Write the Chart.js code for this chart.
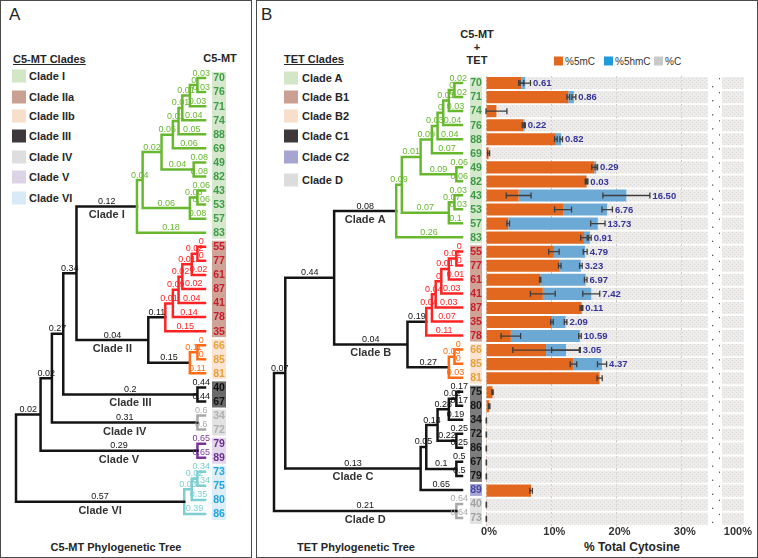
<!DOCTYPE html>
<html>
<head>
<meta charset="utf-8">
<script src="https://cdn.jsdelivr.net/npm/chart.js@4.4.0/dist/chart.umd.min.js"></script>
<style>
  body { margin: 0; width: 758px; height: 558px; position: relative; overflow: hidden; background: #fff;
         font-family: "Liberation Sans", Arial, sans-serif; color: #262626; }
  .panel { position: absolute; border: 1.5px solid #4a4a4a; box-sizing: border-box; }
  canvas { position: absolute; }
  .t { position: absolute; white-space: nowrap; font-size: 11px; font-weight: bold; line-height: 14px; transform: translateY(-50%); }
  .c { position: absolute; white-space: nowrap; font-size: 11px; font-weight: bold; line-height: 14px; transform: translate(-50%, -50%); }
  .sw { position: absolute; width: 14px; height: 13px; transform: translateY(-50%); }
  .u { text-decoration: underline; }
  .big { position: absolute; font-size: 17px; }
  .lg { position: absolute; top: 61px; transform: translateY(-50%); display: flex; align-items: center; font-size: 10px; color: #333; }
  .lg i { display: inline-block; width: 9px; height: 9px; margin-right: 2px; }
</style>
</head>
<body>
<div class="panel" style="left:0;top:0;width:252px;height:558px"></div>
<div class="panel" style="left:256px;top:0;width:502px;height:558px"></div>

<!-- panel A text -->
<div class="big" style="left:9px;top:5px">A</div>
<div class="t u" style="left:13px;top:59px">C5-MT Clades</div>
<div class="sw" style="left:12px;top:76px;background:#d3e6c6"></div><div class="t" style="left:29px;top:76px">Clade I</div>
<div class="sw" style="left:12px;top:97px;background:#c9a091"></div><div class="t" style="left:29px;top:97px">Clade IIa</div>
<div class="sw" style="left:12px;top:116px;background:#f8dfcc"></div><div class="t" style="left:29px;top:116px">Clade IIb</div>
<div class="sw" style="left:12px;top:136px;background:#3d393a"></div><div class="t" style="left:29px;top:136px">Clade III</div>
<div class="sw" style="left:12px;top:157px;background:#dedede"></div><div class="t" style="left:29px;top:157px">Clade IV</div>
<div class="sw" style="left:12px;top:177px;background:#ddd3e7"></div><div class="t" style="left:29px;top:177px">Clade V</div>
<div class="sw" style="left:12px;top:198px;background:#d8eaf5"></div><div class="t" style="left:29px;top:198px">Clade VI</div>
<div class="c" style="left:220px;top:58px">C5-MT</div>
<div class="c" style="left:116px;top:547px">C5-MT Phylogenetic Tree</div>

<!-- panel B text -->
<div class="big" style="left:261px;top:5px">B</div>
<div class="t u" style="left:284px;top:59px">TET Clades</div>
<div class="sw" style="left:284px;top:78px;background:#d3e6c6"></div><div class="t" style="left:302px;top:78px">Clade A</div>
<div class="sw" style="left:284px;top:97px;background:#c9a091"></div><div class="t" style="left:302px;top:97px">Clade B1</div>
<div class="sw" style="left:284px;top:116px;background:#f8dfcc"></div><div class="t" style="left:302px;top:116px">Clade B2</div>
<div class="sw" style="left:284px;top:136px;background:#3d393a"></div><div class="t" style="left:302px;top:136px">Clade C1</div>
<div class="sw" style="left:284px;top:157px;background:#a5a5cf"></div><div class="t" style="left:302px;top:157px">Clade C2</div>
<div class="sw" style="left:284px;top:180px;background:#dcdcdc"></div><div class="t" style="left:302px;top:180px">Clade D</div>
<div class="c" style="left:477px;top:34px">C5-MT</div>
<div class="c" style="left:477px;top:47px">+</div>
<div class="c" style="left:477px;top:60px">TET</div>
<div class="lg" style="left:554px"><i style="background:#e2681f"></i>%5mC</div>
<div class="lg" style="left:604px"><i style="background:#1f9bdb"></i>%5hmC</div>
<div class="lg" style="left:654px"><i style="background:#c9c9c9"></i>%C</div>
<div class="c" style="left:356px;top:547px">TET Phylogenetic Tree</div>
<div class="c" style="left:632px;top:547px;font-size:12px">% Total Cytosine</div>

<canvas id="treeA" width="250" height="558" style="left:0;top:0"></canvas>
<canvas id="treeB" width="228" height="558" style="left:258px;top:0"></canvas>
<canvas id="bars" width="244" height="480" style="left:476px;top:66px"></canvas>
<canvas id="tail" width="40" height="480" style="left:718px;top:66px"></canvas>

<script>
Chart.defaults.font.family = '"Liberation Sans", Arial, sans-serif';

const GREEN = '#68b82f', RED = '#ff2323', ORANGE = '#ff6a14', BLACK = '#141414';
const GRAY = '#a8a8a8', PURPLE = '#7a3598', TEAL = '#7ccfd0';

function leaf(n, t) { return { n, t }; }
function node(d, t, kids, extra) { return Object.assign({ d, t, kids }, extra); }

// depth: 0 = root, 100 = tips; t = branch length written on the branch
const treeA = node(0, '', [
  node(13, '0.02', [
    node(19, '0.02', [
      node(25, '0.27', [
        node(32, '0.34', [
          node(64, '0.12', [
            node(67, '0.04', [
              node(77, '0.02', [
                node(83, '0.05', [
                  node(86, '0.01', [
                    node(88, '0.01', [
                      node(92, '0.01', [
                        node(96, '0', [leaf('70', '0.03'), leaf('76', '0.03')]),
                        leaf('71', '0.03')]),
                      leaf('74', '0.04')]),
                    leaf('88', '0.05')]),
                  leaf('69', '0.06')]),
                node(94, '0.04', [leaf('49', '0.08'), leaf('82', '0.08')])]),
              node(92, '0.06', [
                node(96, '0.03', [leaf('43', '0.06'), leaf('53', '0.06')]),
                leaf('57', '0.08')])]),
            leaf('83', '0.18')], { col: GREEN, clade: 'Clade I' }),
          node(70, '0.04', [
            node(79, '0.11', [
              node(83, '0.01', [
                node(86, '0.09', [
                  node(88, '0.02', [
                    node(93, '0.01', [
                      node(96, '0.02', [leaf('55', '0'), leaf('77', '0')]),
                      leaf('61', '0.02')]),
                    leaf('87', '0.02')]),
                  leaf('41', '0.04')]),
                leaf('78', '0.14')]),
              leaf('35', '0.15')], { col: RED }),
            node(92, '0.15', [
              node(96, '0.11', [leaf('66', '0'), leaf('85', '0')]),
              leaf('81', '0.11')], { col: ORANGE })], { clade: 'Clade II' })]),
        node(96, '0.2', [leaf('40', '0.44'), leaf('67', '0.44')], { clade: 'Clade III' })]),
      node(96, '0.31', [leaf('34', '0.6'), leaf('72', '0.6')], { col: GRAY, clade: 'Clade IV' })]),
    node(96, '0.29', [leaf('79', '0.65'), leaf('89', '0.65')], { col: PURPLE, clade: 'Clade V' })]),
  node(89, '0.57', [
    node(93, '0.03', [
      node(96, '0.02', [leaf('73', '0.34'), leaf('75', '0.34')]),
      leaf('80', '0.35')]),
    leaf('86', '0.39')], { col: TEAL, clade: 'Clade VI' })
]);

const treeB = node(0, '', [
  node(6, '0.07', [
    node(32, '0.44', [
      node(65, '0.08', [
        node(68, '0.09', [
          node(78, '0.01', [
            node(84, '0.09', [
              node(87, '0.03', [
                node(90, '0', [
                  node(93, '0.01', [
                    node(96, '0', [leaf('70', '0.02'), leaf('71', '0.02')]),
                    leaf('74', '0.03')]),
                  leaf('76', '0.04')]),
                leaf('88', '0.04')]),
              leaf('69', '0.07')]),
            node(97, '0.09', [leaf('49', '0.06'), leaf('82', '0.06')])]),
          node(93, '0.07', [
            node(96, '0.07', [leaf('43', '0.03'), leaf('53', '0.03')]),
            leaf('57', '0.1')])]),
        leaf('83', '0.26')], { col: GREEN, clade: 'Clade A' }),
      node(71, '0.04', [
        node(81, '0.19', [
          node(84, '0.04', [
            node(86, '0.04', [
              node(89, '0', [
                node(93, '0.01', [
                  node(97, '0.01', [leaf('55', '0'), leaf('77', '0')]),
                  leaf('61', '0.01')]),
                leaf('41', '0.03')]),
              leaf('87', '0.03')]),
            leaf('35', '0.07')]),
          leaf('78', '0.11')], { col: RED }),
        node(93, '0.27', [
          node(96, '0.03', [leaf('66', '0'), leaf('85', '0')]),
          leaf('81', '0.03')], { col: ORANGE })], { clade: 'Clade B' })]),
    node(78, '0.13', [
      node(81, '0.05', [
        node(87, '0.14', [
          node(93, '0.28', [
            node(97, '0.02', [leaf('75', '0.17'), leaf('80', '0.17')]),
            leaf('34', '0.19')]),
          node(97, '0.22', [leaf('72', '0.25'), leaf('86', '0.25')])]),
        node(97, '0.1', [leaf('67', '0.5'), leaf('79', '0.5')])]),
      leaf('89', '0.65')], { clade: 'Clade C' })]),
  node(97, '0.21', [leaf('40', '0.64'), leaf('73', '0.64')], { col: GRAY, clade: 'Clade D' })
]);

// leaf box groups: [number of leaves, box fill, number colour]
const boxesA = [
  [12, '#d5e8cb', '#3c9c47'], [7, '#cfa496', '#c81d2d'], [3, '#fbe4d3', '#eba13a'],
  [2, '#6a6a6a', '#101010'], [2, '#e2e2e2', '#b0b0b0'], [2, '#e3d8eb', '#6d2e8f'], [4, '#ddeef8', '#1ea4de']
];
const boxesB = [
  [12, '#d5e8cb', '#3c9c47'], [7, '#cfa496', '#c81d2d'], [3, '#fbe4d3', '#eba13a'],
  [7, '#7c7c7c', '#181818'], [1, '#a7a7d3', '#4848a6'], [2, '#e2e2e2', '#a2a2a2']
];

// bar chart data (rows follow the TET tree)
const samples = ['70', '71', '74', '76', '88', '69', '49', '82', '43', '53', '57', '83', '55', '77', '61', '41',
                 '87', '35', '78', '66', '85', '81', '75', '80', '34', '72', '86', '67', '79', '89', '40', '73'];
const mC = [5.4, 12.6, 1.6, 5.7, 10.7, 0.4, 16.6, 15.4, 5.0, 11.8, 3.4, 15.0, 10.4, 11.3, 8.3, 8.7,
            14.6, 10.1, 3.8, 9.2, 13.4, 17.4, 1.0, 0.5, 0.05, 0.05, 0.05, 0.05, 0.05, 6.9, 0.05, 0.05];
const hmC = [0.61, 0.86, 0, 0.22, 0.82, 0, 0.29, 0.03, 16.50, 6.76, 13.73, 0.91, 4.79, 3.23, 6.97, 7.42,
             0.11, 2.09, 10.59, 3.05, 4.37, 0, 0, 0, 0, 0, 0, 0, 0, 0, 0, 0];
const mCErr = [0.4, 0.2, 1.6, 0.15, 0.2, 0.15, 0.4, 0.2, 1.9, 1.3, 0.2, 0.5, 0.8, 0.2, 0.1, 1.9,
               0.2, 0.2, 1.5, 5.1, 0.5, 0.4, 0.1, 0.1, 0.03, 0.03, 0.03, 0.03, 0.03, 0.2, 0.03, 0.03];
const hmCErr = [0.8, 0.3, 0, 0.1, 0.2, 0, 0.2, 0.1, 3.6, 0.8, 1.1, 0.2, 0.3, 0.2, 0.2, 1.3,
                0.1, 0.2, 0.2, 2.2, 0.7, 0, 0, 0, 0, 0, 0, 0, 0, 0, 0, 0];
const restC = mC.map((v, i) => +(100 - v - hmC[i]).toFixed(2));
const xTicks = [0, 10, 20, 30];

function layoutTree(root) {
  let idx = 0;
  const nodes = [];
  (function walk(n, parent, col) {
    n.col = n.col || col;
    n.parent = parent;
    if (n.kids) {
      n.kids.forEach((k) => walk(k, n, n.col));
      n.y = (n.kids[0].y + n.kids[n.kids.length - 1].y) / 2;
    } else {
      n.d = 100;
      n.y = idx++;
    }
    nodes.push(n);
  })(root, null, BLACK);
  return nodes;
}

function branchSets(nodes) {
  const byCol = {};
  nodes.filter((n) => n.kids).forEach((n) => {
    const a = n.kids[0], b = n.kids[n.kids.length - 1];
    const pts = byCol[n.col] || (byCol[n.col] = []);
    pts.push({ x: a.d, y: a.y }, { x: n.d, y: a.y }, { x: n.d, y: b.y }, { x: b.d, y: b.y }, { x: null, y: null });
  });
  return Object.keys(byCol).map((col) => ({
    data: byCol[col], borderColor: col, borderWidth: 2.5, showLine: true, pointRadius: 0,
    spanGaps: false, clip: false, borderCapStyle: 'square', borderJoinStyle: 'miter', tension: 0,
  }));
}

const treeText = {
  id: 'treeText',
  afterDatasetsDraw(chart, args, opts) {
    const { ctx } = chart;
    const xs = chart.scales.x, ys = chart.scales.y;
    ctx.save();
    opts.nodes.forEach((n) => {
      if (!n.parent) return;
      const x0 = xs.getPixelForValue(n.parent.d), x1 = xs.getPixelForValue(n.d);
      const y = ys.getPixelForValue(n.y), mid = (x0 + x1) / 2;
      ctx.textAlign = 'center';
      if (n.t) {
        ctx.font = '9px "Liberation Sans", Arial';
        ctx.fillStyle = n.parent.col;
        ctx.textBaseline = 'alphabetic';
        ctx.fillText(n.t, mid, y - 2.5);
      }
      if (n.clade) {
        ctx.font = 'bold 11px "Liberation Sans", Arial';
        ctx.fillStyle = '#333';
        ctx.textBaseline = 'middle';
        ctx.fillText(n.clade, mid, y + 9);
      }
    });
    const leaves = opts.nodes.filter((n) => !n.kids).sort((a, b) => a.y - b.y);
    const step = ys.getPixelForValue(1) - ys.getPixelForValue(0);
    const tip = xs.getPixelForValue(100);
    let start = 0;
    opts.boxes.forEach(([count, fill, ink]) => {
      const top = ys.getPixelForValue(start) - step / 2 + 1;
      ctx.fillStyle = fill;
      ctx.fillRect(tip + opts.gap, top, opts.w, count * step - 2);
      ctx.fillStyle = ink;
      ctx.font = 'bold 10.5px "Liberation Sans", Arial';
      ctx.textAlign = 'center';
      ctx.textBaseline = 'middle';
      for (let i = start; i < start + count; i++) {
        ctx.fillText(leaves[i].n, tip + opts.gap + opts.w / 2, ys.getPixelForValue(i) + 0.5);
      }
      start += count;
    });
    ctx.restore();
  },
};

function drawTree(id, tree, boxes, padding, gap, w) {
  const nodes = layoutTree(tree);
  new Chart(document.getElementById(id), {
    type: 'scatter',
    data: { datasets: branchSets(nodes) },
    options: {
      responsive: false,
      animation: false,
      layout: { autoPadding: false, padding },
      plugins: { legend: { display: false }, tooltip: { enabled: false }, treeText: { nodes, boxes, gap, w } },
      scales: {
        x: { type: 'linear', min: 0, max: 100, display: false },
        y: { type: 'linear', min: -0.5, max: 31.5, reverse: true, display: false },
      },
    },
    plugins: [treeText],
  });
}

drawTree('treeA', treeA, boxesA, { left: 16, right: 45, top: 71, bottom: 37 }, 7, 14);
drawTree('treeB', treeB, boxesB, { left: 16, right: 24, top: 76, bottom: 33 }, 8, 12);

function hatch(ctx) {
  const c = document.createElement('canvas');
  c.width = 4; c.height = 4;
  const g = c.getContext('2d');
  g.fillStyle = 'rgba(226,225,221,0.62)';
  g.fillRect(0, 0, 4, 4);
  g.fillStyle = 'rgba(200,199,195,0.55)';
  g.fillRect(0, 0, 1, 1);
  g.fillRect(2, 2, 1, 1);
  return ctx.createPattern(c, 'repeat');
}

const errorBars = {
  id: 'errorBars',
  afterDatasetsDraw(chart) {
    const { ctx, chartArea } = chart;
    const xs = chart.scales.x, ys = chart.scales.y;
    ctx.save();
    samples.forEach((s, i) => {
      const y = ys.getPixelForValue(i);
      const whisker = (v, e) => {
        if (!e) return;
        const a = xs.getPixelForValue(Math.max(0, v - e)), b = xs.getPixelForValue(v + e);
        ctx.beginPath();
        ctx.moveTo(a, y); ctx.lineTo(b, y);
        ctx.moveTo(a, y - 3); ctx.lineTo(a, y + 3);
        ctx.moveTo(b, y - 3); ctx.lineTo(b, y + 3);
        ctx.stroke();
      };
      ctx.strokeStyle = '#3d3d3d';
      ctx.lineWidth = 1.3;
      whisker(mC[i], mCErr[i]);
      whisker(mC[i] + hmC[i], hmCErr[i]);
      if (hmC[i] > 0) {
        const end = Math.max(mC[i] + mCErr[i], mC[i] + hmC[i] + hmCErr[i]);
        ctx.fillStyle = '#34349a';
        ctx.font = 'bold 9.5px "Liberation Sans", Arial';
        ctx.textAlign = 'left';
        ctx.textBaseline = 'middle';
        ctx.fillText(hmC[i].toFixed(2), xs.getPixelForValue(end) + 2.5, y + 0.5);
      }
      // axis break marks
      ctx.fillStyle = '#555';
      ctx.fillRect(chartArea.right + 4, y + 3, 1.3, 1.3);
      ctx.fillRect(chartArea.right + 11, y - 5, 1.3, 1.3);
    });
    ctx.restore();
  },
};

function barData(ctx) {
  return {
    labels: samples,
    datasets: [
      { label: '%5mC', data: mC, backgroundColor: '#e2681f' },
      { label: '%5hmC', data: hmC, backgroundColor: '#6ca9d5' },
      { label: '%C', data: restC, backgroundColor: hatch(ctx) },
    ],
  };
}

const barsCtx = document.getElementById('bars').getContext('2d');
new Chart(barsCtx, {
  type: 'bar',
  data: barData(barsCtx),
  options: {
    indexAxis: 'y',
    responsive: false,
    animation: false,
    layout: { autoPadding: false, padding: { left: 10, right: 12, top: 10, bottom: 7 } },
    datasets: { bar: { barPercentage: 0.86, categoryPercentage: 1, borderWidth: 0 } },
    plugins: { legend: { display: false }, tooltip: { enabled: false } },
    scales: {
      x: {
        stacked: true, min: 0, max: 34,
        afterBuildTicks: (s) => { s.ticks = xTicks.map((v) => ({ value: v })); },
        grid: { color: '#c4c4c4', drawTicks: false },
        border: { display: false, dash: [2, 2] },
        ticks: { padding: 0, labelOffset: 3, color: '#333', font: { size: 11, weight: 'bold' }, callback: (v) => v + '%' },
      },
      y: { stacked: true, display: false },
    },
  },
  plugins: [errorBars],
});

const tailCtx = document.getElementById('tail').getContext('2d');
new Chart(tailCtx, {
  type: 'bar',
  data: barData(tailCtx),
  options: {
    indexAxis: 'y',
    responsive: false,
    animation: false,
    layout: { autoPadding: false, padding: { left: 4, right: 10, top: 10, bottom: 7 } },
    datasets: { bar: { barPercentage: 0.86, categoryPercentage: 1, borderWidth: 0 } },
    plugins: { legend: { display: false }, tooltip: { enabled: false } },
    scales: {
      x: {
        stacked: true, min: 96, max: 100,
        afterBuildTicks: (s) => { s.ticks = [{ value: 100 }]; },
        grid: { display: false, drawTicks: false },
        border: { display: false },
        ticks: { padding: 0, labelOffset: -6, color: '#333', font: { size: 11, weight: 'bold' }, callback: (v) => v + '%' },
      },
      y: { stacked: true, display: false },
    },
  },
});
</script>
</body>
</html>
